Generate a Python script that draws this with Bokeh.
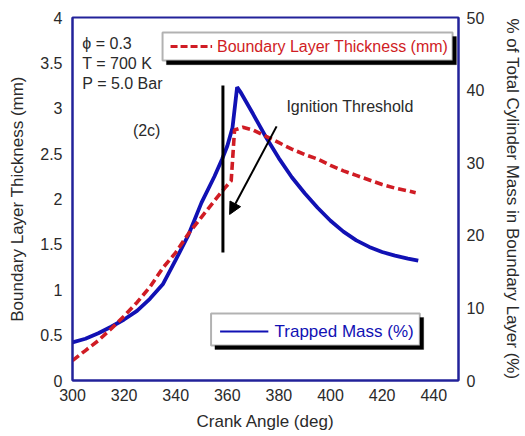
from bokeh.plotting import figure
from bokeh.models import (Range1d, LinearAxis, FixedTicker, Label, BoxAnnotation,
                          Arrow, NormalHead)
from bokeh.embed import file_html
from bokeh.resources import INLINE

# ---- data ----
crank_trapped = [300, 305, 310, 315, 320, 325, 330, 335, 340, 345, 350, 355, 358, 360,
                 362, 363.8, 365, 370, 375, 380, 385, 390, 395, 400, 405, 410, 415,
                 420, 425, 430, 434]
trapped_pct = [5.25, 5.75, 6.5, 7.4, 8.4, 9.6, 11.25, 13.25, 16.6, 20.1, 24.5, 28.1, 30.5,
               32.3, 34.8, 40.4, 39.8, 36.7, 33.5, 30.6, 28.0, 25.8, 23.8, 22.0, 20.5,
               19.3, 18.4, 17.7, 17.2, 16.8, 16.5]

crank_bl = [300, 305, 310, 315, 320, 325, 330, 335, 340, 345, 350, 355, 357, 359, 361.5,
            362.2, 362.8, 366, 370, 375, 380, 385, 390, 395, 400, 405, 410, 415, 420,
            425, 430, 433]
bl_mm = [0.22, 0.33, 0.44, 0.57, 0.71, 0.86, 1.03, 1.24, 1.41, 1.62, 1.80, 1.98, 2.05,
         2.12, 2.20, 2.50, 2.76, 2.79, 2.76, 2.69, 2.62, 2.55, 2.49, 2.44, 2.37,
         2.31, 2.26, 2.21, 2.16, 2.12, 2.09, 2.07]

x_ticks = [300, 320, 340, 360, 380, 400, 420, 440]
y_ticks = [0, 0.5, 1, 1.5, 2, 2.5, 3, 3.5, 4]
y_tick_labels = ["0", "0.5", "1", "1.5", "2", "2.5", "3", "3.5", "4"]
y2_ticks = [0, 10, 20, 30, 40, 50]

ignition_angle = 358.3
ignition_span = [1.41, 3.25]

FONT = "Liberation Sans"
FRAME = "#22229a"
BLUE = "#1111b4"
RED = "#d01c24"
TXT = "#2a2a2a"

p = figure(width=525, height=436, output_backend="svg", toolbar_location=None,
           x_range=Range1d(300, 449.6), y_range=Range1d(0, 4),
           min_border_left=72, min_border_right=63, min_border_top=17,
           min_border_bottom=56)
p.extra_y_ranges = {"pct": Range1d(0, 50)}

p.xgrid.visible = False
p.ygrid.visible = False
p.outline_line_color = FRAME
p.outline_line_width = 2

def style_axis(ax, label_standoff, axis_label_standoff):
    ax.axis_line_color = FRAME
    ax.axis_line_width = 2
    ax.major_tick_line_color = None
    ax.minor_tick_line_color = None
    ax.major_tick_out = 0
    ax.major_tick_in = 0
    ax.minor_tick_out = 0
    ax.major_label_text_font = FONT
    ax.major_label_text_font_size = "16px"
    ax.major_label_text_color = TXT
    ax.axis_label_text_font = FONT
    ax.axis_label_text_font_size = "17px"
    ax.axis_label_text_font_style = "normal"
    ax.axis_label_text_color = TXT
    ax.major_label_standoff = label_standoff
    ax.axis_label_standoff = axis_label_standoff

p.xaxis.ticker = FixedTicker(ticks=x_ticks)
p.xaxis.axis_label = "Crank Angle (deg)"
style_axis(p.xaxis[0], 8, 8)

p.yaxis.ticker = FixedTicker(ticks=y_ticks)
p.yaxis.major_label_overrides = {t: s for t, s in zip(y_ticks, y_tick_labels)}
p.yaxis.axis_label = "Boundary Layer Thickness (mm)"
style_axis(p.yaxis[0], 10, 10)

ax2 = LinearAxis(y_range_name="pct", ticker=FixedTicker(ticks=y2_ticks),
                 axis_label="% of Total Cylinder Mass in Boundary Layer (%)")
style_axis(ax2, 8, 16)
p.add_layout(ax2, "right")

# curves
p.line(crank_trapped, trapped_pct, y_range_name="pct", line_color=BLUE, line_width=3.8)
p.line(crank_bl, bl_mm, line_color=RED, line_width=3.6, line_dash="8 4")

# ignition threshold
p.line([ignition_angle, ignition_angle], ignition_span, line_color="black", line_width=3)
p.add_layout(Arrow(end=NormalHead(size=12, fill_color="black", line_color="black"),
                   x_start=379.1, y_start=2.80, x_end=360.9, y_end=1.83,
                   line_color="black", line_width=2))
p.add_layout(Label(x=382.9, y=3.014, text="Ignition Threshold", text_font=FONT,
                   text_font_size="16px", text_color=TXT, text_baseline="middle"))

# condition texts
for yy, t in [(3.714, "\u03d5 = 0.3"), (3.493, "T = 700 K"), (3.273, "P = 5.0 Bar")]:
    p.add_layout(Label(x=303.8, y=yy, text=t, text_font=FONT, text_font_size="16px",
                       text_color=TXT, text_baseline="middle"))
p.add_layout(Label(x=323.4, y=2.755, text="(2c)", text_font=FONT, text_font_size="16px",
                   text_color=TXT, text_baseline="middle"))

# legend box 1 (boundary layer thickness)
p.add_layout(BoxAnnotation(left=336.4, right=448.8, top=3.79, bottom=3.48,
                           fill_color="black", fill_alpha=1, line_color="black"))
p.add_layout(BoxAnnotation(left=334.9, right=447.3, top=3.835, bottom=3.526,
                           fill_color="white", fill_alpha=1, line_color="black",
                           line_width=2))
r1 = p.line([338.0, 354.1], [3.68, 3.68], line_color=RED, line_width=3, line_dash="7 3")
r1.level = "overlay"
p.add_layout(Label(x=356.0, y=3.68, text="Boundary Layer Thickness (mm)", text_font=FONT,
                   text_font_size="16px", text_color=RED, text_baseline="middle"))

# legend box 2 (trapped mass)
p.add_layout(BoxAnnotation(left=355.2, right=436.1, top=0.694, bottom=0.342,
                           fill_color="black", fill_alpha=1, line_color="black"))
p.add_layout(BoxAnnotation(left=353.7, right=434.6, top=0.738, bottom=0.386,
                           fill_color="white", fill_alpha=1, line_color="black",
                           line_width=2))
r2 = p.line([357.2, 375.9], [0.54, 0.54], line_color=BLUE, line_width=2.2)
r2.level = "overlay"
p.add_layout(Label(x=378.3, y=0.54, text="Trapped Mass (%)", text_font=FONT,
                   text_font_size="17px", text_color=BLUE, text_baseline="middle"))

open("out.html", "w").write(file_html(p, INLINE))
